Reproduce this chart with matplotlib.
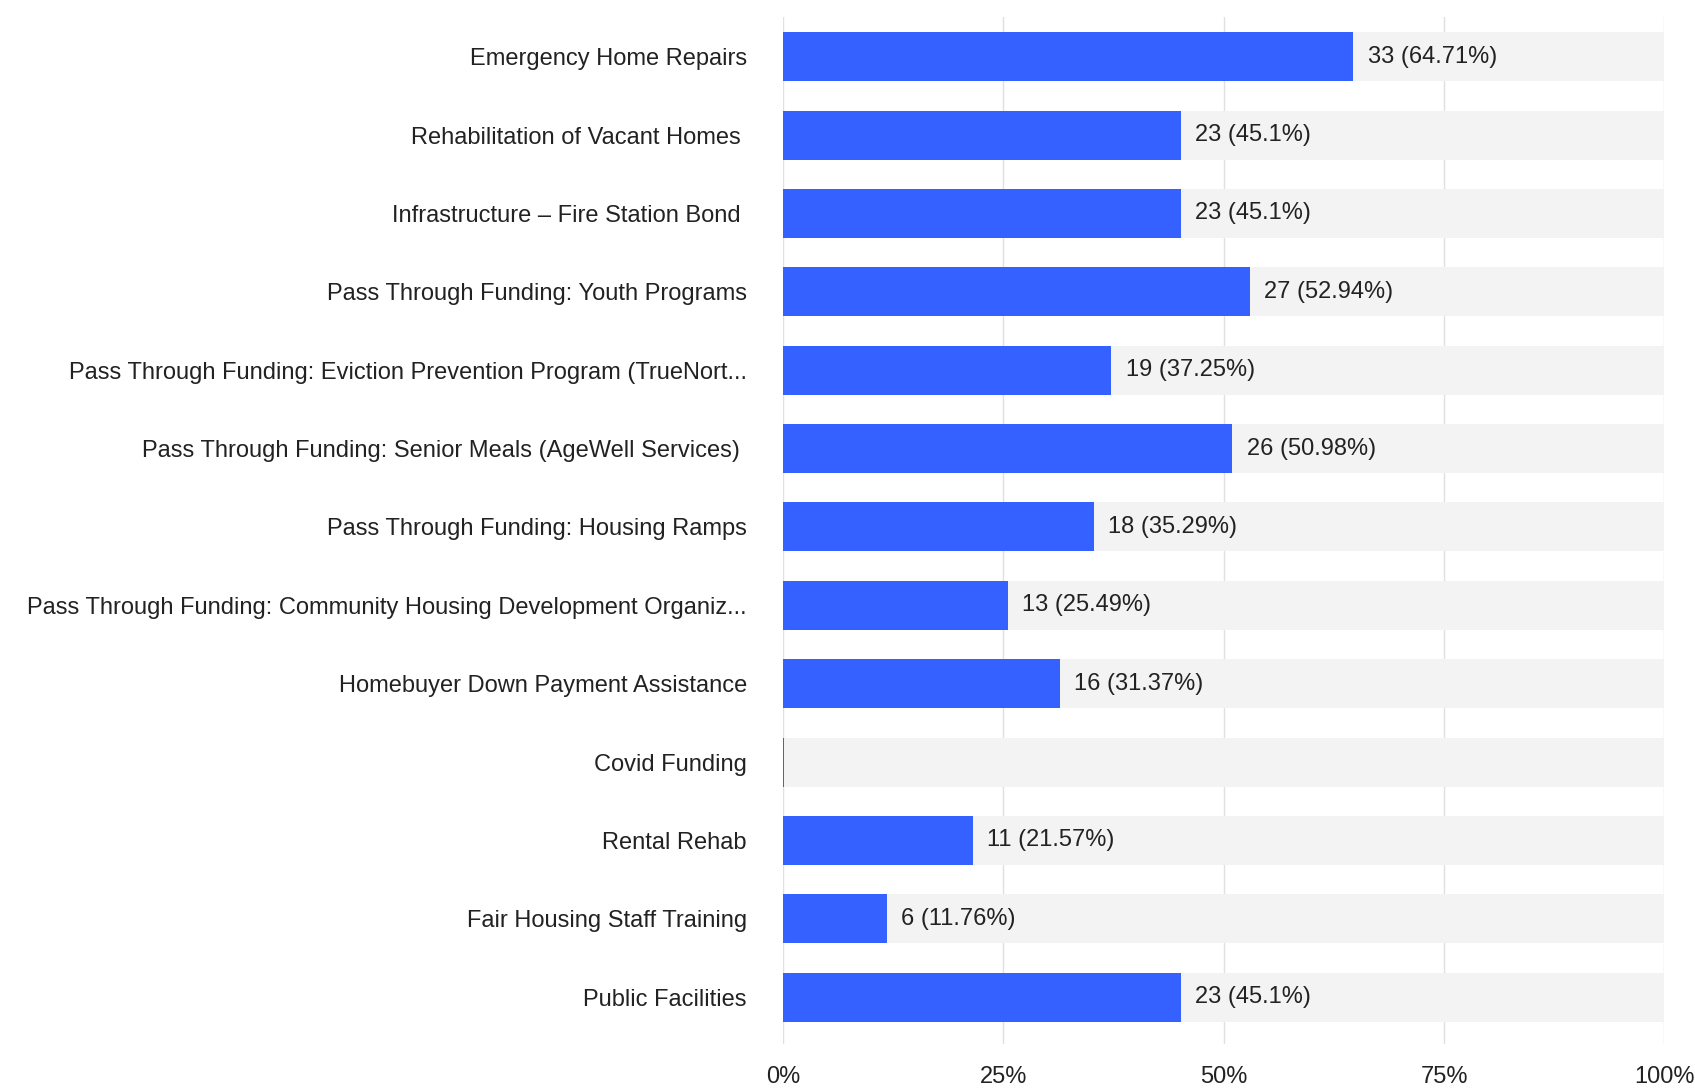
import matplotlib
matplotlib.use("Agg")
import matplotlib.pyplot as plt
from matplotlib.ticker import FixedLocator

categories = [
    "Emergency Home Repairs",
    "Rehabilitation of Vacant Homes ",
    "Infrastructure – Fire Station Bond ",
    "Pass Through Funding: Youth Programs",
    "Pass Through Funding: Eviction Prevention Program (TrueNort...",
    "Pass Through Funding: Senior Meals (AgeWell Services) ",
    "Pass Through Funding: Housing Ramps",
    "Pass Through Funding: Community Housing Development Organiz...",
    "Homebuyer Down Payment Assistance",
    "Covid Funding",
    "Rental Rehab",
    "Fair Housing Staff Training",
    "Public Facilities",
]
counts = [33, 23, 23, 27, 19, 26, 18, 13, 16, 0, 11, 6, 23]
percents = [64.71, 45.1, 45.1, 52.94, 37.25, 50.98, 35.29, 25.49, 31.37, 0.0, 21.57, 11.76, 45.1]
xticks = [0, 25, 50, 75, 100]
xticklabels = ["0%", "25%", "50%", "75%", "100%"]

plt.rcParams['font.family'] = ['Liberation Sans', 'DejaVu Sans']

fig = plt.figure(figsize=(16.95, 10.9), dpi=100)
ax = fig.add_axes([0.462, 0.042, 0.520, 0.942])

pos = list(range(len(categories)))
bh = 0.625
ax.barh(pos, [100] * len(pos), height=bh, color="#f3f3f3", zorder=2)
ax.barh(pos, [max(p, 0.15) for p in percents], height=bh, color="#3461ff", zorder=3)

fs = 17
for y, c, p in zip(pos, counts, percents):
    if c > 0:
        ax.text(p + 1.6, y, f"{c} ({p:g}%)", va="center", ha="left",
                fontsize=fs, color="#222222", zorder=4)

ax.set_xlim(0, 100)
ax.set_ylim(12.6, -0.5)
ax.set_yticks(pos)
ax.set_yticklabels(categories, fontsize=fs, color="#222222")
ax.xaxis.set_major_locator(FixedLocator(xticks))
ax.set_xticklabels(xticklabels, fontsize=fs, color="#222222")
ax.tick_params(axis="y", length=0, pad=26)
ax.tick_params(axis="x", length=0, pad=16)
ax.grid(axis="x", color="#e0e0e0", linewidth=1.0, zorder=1)
ax.set_axisbelow(True)
for s in ax.spines.values():
    s.set_visible(False)

fig.savefig("out.png", dpi=100, facecolor="white")
